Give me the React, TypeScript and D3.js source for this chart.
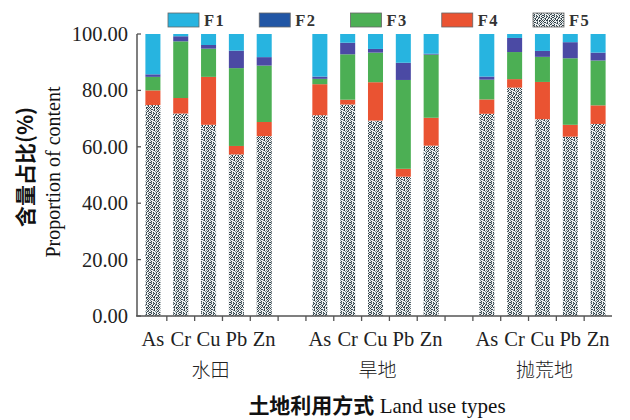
import React from "react";
import * as d3 from "d3";

const landUses = ["水田", "旱地", "抛荒地"];
const metals = ["As", "Cr", "Cu", "Pb", "Zn"];
const fractions = ["F1", "F2", "F3", "F4", "F5"];
const yTicks = [0, 20, 40, 60, 80, 100];

// values per fraction, ordered 水田 As..Zn, 旱地 As..Zn, 抛荒地 As..Zn
const F1 = [14.3, 0.8, 3.9, 5.9, 8.2, 15.1, 3.1, 5.3, 10.2, 7.0, 15.1, 1.4, 6.0, 2.9, 6.6];
const F2 = [0.9, 1.8, 1.3, 6.2, 3.0, 0.8, 4.1, 1.3, 6.1, 0.3, 1.1, 5.0, 2.1, 5.7, 2.8];
const F3 = [4.8, 20.1, 10.0, 27.6, 20.0, 1.9, 16.1, 10.5, 31.5, 22.4, 7.0, 9.6, 8.9, 23.6, 15.9];
const F4 = [5.2, 5.5, 17.0, 3.0, 5.0, 11.0, 1.7, 13.6, 2.8, 9.9, 5.1, 3.0, 13.2, 4.2, 6.6];
const F5 = [74.8, 71.8, 67.8, 57.3, 63.8, 71.2, 75.0, 69.3, 49.4, 60.4, 71.7, 81.0, 69.8, 63.6, 68.1];

const colors: Record<string, string> = {
  F1: "#27b4e0",
  F2: "#4b4aa4",
  F3: "#4caf54",
  F4: "#ea5332",
  F5: "url(#speckle)",
};

const W = 630;
const H = 420;
const serif = "'Liberation Serif', 'Times New Roman', serif";
const cjk = "'Noto Sans CJK SC', sans-serif";
const axisColor = "#555";

// slots along x: five metals per land use with an empty slot between groups
const slots: string[] = [];
landUses.forEach((lu, gi) => {
  if (gi > 0) slots.push(`gap${gi}`);
  metals.forEach((m) => slots.push(`${lu}-${m}`));
});

const rows = landUses.flatMap((lu, gi) =>
  metals.map((m, mi) => {
    const i = gi * metals.length + mi;
    return { key: `${lu}-${m}`, metal: m, F1: F1[i], F2: F2[i], F3: F3[i], F4: F4[i], F5: F5[i] };
  })
);

// texture tile for F5 (dark grains on light grey)
const grain = [
  "#..##.#.#.",
  ".#...#.##.",
  "##.#..#..#",
  ".#.##.#.#.",
  "#..#.##..#",
  ".##..#.##.",
  "#.#.#...#.",
  ".#.##.##.#",
  "#...#.#.#.",
  ".##.#..#.#",
];

export default function App() {
  const x = d3.scaleBand<string>().domain(slots).range([139, 612]).paddingInner(0.46).paddingOuter(0.23);
  const y = d3.scaleLinear().domain([0, 100]).range([316, 34]);
  const stack = d3.stack<any>().keys(["F5", "F4", "F3", "F2", "F1"]);
  const series = stack(rows);
  const step = x.step();
  const bw = x.bandwidth();
  const tickXs = slots.slice(1).map((s) => (x(s) as number) - (step - bw) / 2);
  const legend = d3.scalePoint<string>().domain(fractions).range([168, 533]);

  return (
    <svg width={W} height={H} style={{ position: "absolute", left: 0, top: 0, background: "#fff" }}>
      <defs>
        <pattern id="speckle" width={10} height={10} patternUnits="userSpaceOnUse">
          <rect width={10} height={10} fill="#eef1f2" />
          {grain.flatMap((row, r) =>
            row.split("").map((c, k) =>
              c === "#" ? (
                <rect key={`${r}-${k}`} x={k} y={r} width={1} height={1} fill={(r + k) % 3 === 0 ? "#7a8a90" : "#33434a"} />
              ) : null
            )
          )}
        </pattern>
      </defs>

      {/* legend */}
      {fractions.map((f) => (
        <g key={f} transform={`translate(${legend(f)},13)`}>
          <rect width={31} height={14} fill={f === "F2" ? "#2156a5" : colors[f]} stroke="#666" strokeWidth={0.8} />
          <text x={36} y={12.5} fontFamily={serif} fontWeight="bold" fontSize={16.5} fill="#333" letterSpacing={1.5}>
            {f}
          </text>
        </g>
      ))}

      {/* bars */}
      {series.map((s) => (
        <g key={s.key} fill={colors[s.key]}>
          {s.map((d, i) => (
            <rect
              key={i}
              x={x(d.data.key)}
              y={y(d[1])}
              width={bw}
              height={y(d[0]) - y(d[1])}
            />
          ))}
        </g>
      ))}

      {/* y axis */}
      <line x1={137} x2={137} y1={y(100)} y2={y(0)} stroke={axisColor} strokeWidth={1.5} />
      {yTicks.map((t) => (
        <g key={t}>
          <line x1={137} x2={141} y1={y(t)} y2={y(t)} stroke={axisColor} strokeWidth={1.3} />
          <text x={128} y={y(t) + 7} textAnchor="end" fontFamily={serif} fontSize={20.5} fill="#222">
            {t.toFixed(2)}
          </text>
        </g>
      ))}

      {/* x axis */}
      <line x1={136} x2={612} y1={y(0)} y2={y(0)} stroke={axisColor} strokeWidth={1.5} />
      {tickXs.map((tx, i) => (
        <line key={i} x1={tx} x2={tx} y1={y(0)} y2={y(0) + 5} stroke={axisColor} strokeWidth={1.3} />
      ))}
      {rows.map((r) => (
        <text
          key={r.key}
          x={(x(r.key) as number) + bw / 2}
          y={346}
          textAnchor="middle"
          fontFamily={serif}
          fontSize={20.5}
          fill="#222"
        >
          {r.metal}
        </text>
      ))}
      {landUses.map((lu) => (
        <text
          key={lu}
          x={(x(`${lu}-Cu`) as number) + bw / 2 + 2}
          y={377}
          textAnchor="middle"
          fontFamily={cjk}
          fontWeight={300}
          fontSize={19}
          fill="#222"
        >
          {lu}
        </text>
      ))}
      <text x={377} y={413} textAnchor="middle" fontSize={21} fill="#111">
        <tspan fontFamily={cjk} fontWeight="bold">土地利用方式</tspan>
        <tspan fontFamily={serif}> Land use types</tspan>
      </text>

      {/* y labels */}
      <text
        transform="translate(33,167) rotate(-90)"
        textAnchor="middle"
        fontFamily={cjk}
        fontWeight="bold"
        fontSize={21}
        fill="#111"
      >
        含量占比(%)
      </text>
      <text
        transform="translate(60,172) rotate(-90)"
        textAnchor="middle"
        fontFamily={serif}
        fontSize={20}
        fill="#111"
      >
        Proportion of content
      </text>
    </svg>
  );
}
